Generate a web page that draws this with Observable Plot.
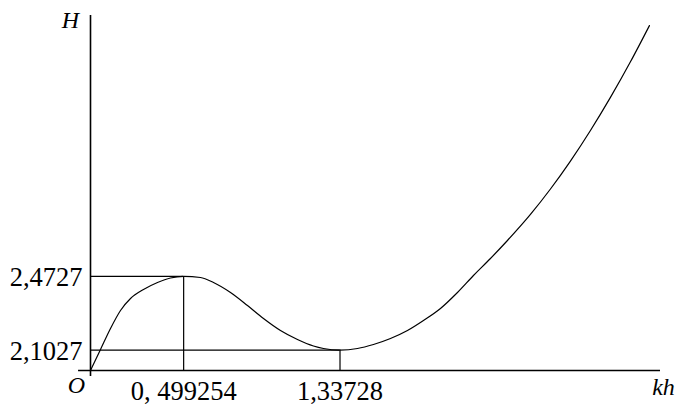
<!DOCTYPE html>
<html>
<head>
<meta charset="utf-8">
<script src="https://cdn.jsdelivr.net/npm/d3@7"></script>
<script src="https://cdn.jsdelivr.net/npm/@observablehq/plot@0.6"></script>
<style>
  html, body { margin: 0; padding: 0; background: #fff; }
  #chart svg { display: block; }
</style>
</head>
<body>
<div id="chart"></div>
<script>
// Curve H(kh)
const kh = [0, 0.0536, 0.1072, 0.1608, 0.2144, 0.2840, 0.3591, 0.4287, 0.499254,
  0.5895, 0.6592, 0.7503, 0.8414, 0.9271, 1.0182, 1.1093, 1.1951, 1.2487, 1.33728,
  1.4309, 1.5166, 1.6077, 1.6988, 1.7846, 1.8757, 1.9668, 2.0525, 2.1436, 2.2347,
  2.3580, 2.4652, 2.5723, 2.6795, 2.7867, 2.8939, 2.9957];
const H = [2.0, 2.1055, 2.2111, 2.3015, 2.3618, 2.4070, 2.4422, 2.4648, 2.4727,
  2.4673, 2.4422, 2.3920, 2.3266, 2.2613, 2.2010, 2.1558, 2.1231, 2.1106, 2.1027,
  2.1106, 2.1307, 2.1608, 2.2010, 2.2513, 2.3116, 2.3920, 2.4774, 2.5628, 2.6533,
  2.7844, 2.9121, 3.0523, 3.2060, 3.3724, 3.5513, 3.7332];

// Critical points (max and min)
const critKh = [0.499254, 1.33728];
const critH = [2.4727, 2.1027];
const critKhLabels = ["0, 499254", "1,33728"];
const critHLabels = ["2,4727", "2,1027"];

// Axis extents
const xDomain = [0, 3.055];
const yDomain = [2, 3.784];
const xAxisStart = -0.064;
const yAxisStart = 1.97;
const axisNames = {x: "kh", y: "H", origin: "O"};

const curve = kh.map((k, i) => ({kh: k, H: H[i]}));
const crit = critKh.map((k, i) => ({kh: k, H: critH[i], kl: critKhLabels[i], hl: critHLabels[i]}));

const font = "Liberation Serif, Times New Roman, serif";

const chart = Plot.plot({
  width: 678,
  height: 405,
  marginLeft: 90,
  marginRight: 18,
  marginTop: 15,
  marginBottom: 35,
  x: {domain: xDomain, axis: null},
  y: {domain: yDomain, axis: null},
  style: {background: "#fff", color: "#000"},
  marks: [
    // guide lines
    Plot.ruleY(crit, {y: "H", x1: 0, x2: "kh", stroke: "#000", strokeWidth: 1.2}),
    Plot.ruleX(crit, {x: "kh", y1: yDomain[0], y2: "H", stroke: "#000", strokeWidth: 1.2}),
    // axes
    Plot.ruleY([yDomain[0]], {x1: xAxisStart, x2: xDomain[1], stroke: "#000", strokeWidth: 1.6}),
    Plot.ruleX([0], {y1: yAxisStart, y2: yDomain[1], stroke: "#000", strokeWidth: 1.6}),
    // curve
    Plot.line(curve, {x: "kh", y: "H", curve: "monotone-x", stroke: "#000", strokeWidth: 1.2}),
    // tick labels
    Plot.text(crit, {x: 0, y: "H", text: "hl", textAnchor: "end", dx: -8, dy: 1, fontSize: 26.5, fontFamily: font}),
    Plot.text(crit, {x: "kh", y: yDomain[0], text: "kl", dy: 21, fontSize: 26.5, fontFamily: font}),
    // axis names
    Plot.text([axisNames.y], {x: 0, y: yDomain[1], text: d => d, dx: -20, dy: 5, fontSize: 24, fontStyle: "italic", fontFamily: font}),
    Plot.text([axisNames.origin], {x: 0, y: yDomain[0], text: d => d, dx: -14, dy: 15, fontSize: 24, fontStyle: "italic", fontFamily: font}),
    Plot.text([axisNames.x], {x: xDomain[1], y: yDomain[0], text: d => d, dx: 3, dy: 17, fontSize: 24, fontStyle: "italic", fontFamily: font})
  ]
});
document.getElementById("chart").appendChild(chart);
</script>
</body>
</html>
